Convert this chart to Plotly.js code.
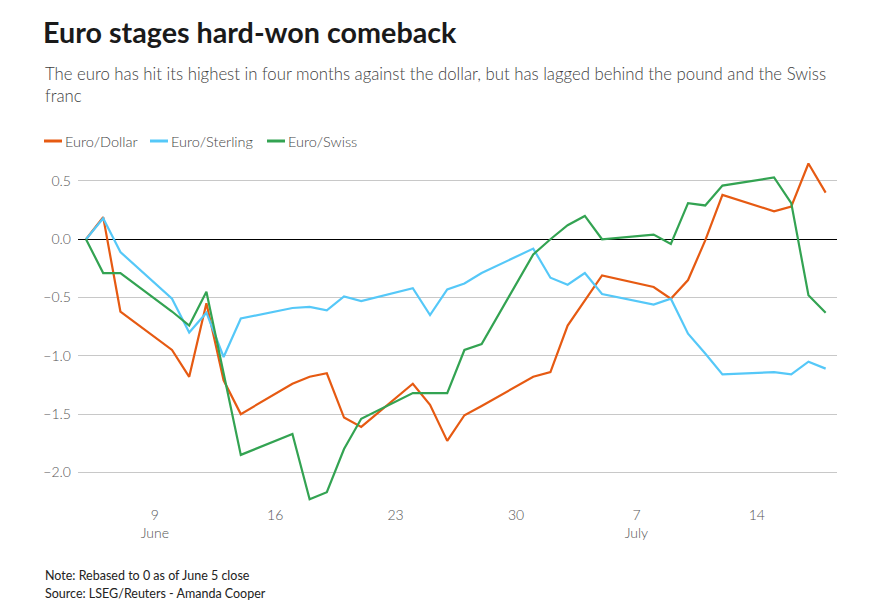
<!DOCTYPE html>
<html>
<head>
<meta charset="utf-8">
<script src="https://cdn.plot.ly/plotly-3.0.1.min.js"></script>
<style>html,body{margin:0;padding:0;background:#fff;}#chart{width:892px;height:601px;}</style>
</head>
<body>
<div id="chart"></div>
<script>
// ---- Data (rebased to 0 as of June 5 close, %) ----
var dates = ["2024-06-05","2024-06-06","2024-06-07","2024-06-10","2024-06-11","2024-06-12","2024-06-13","2024-06-14",
  "2024-06-17","2024-06-18","2024-06-19","2024-06-20","2024-06-21","2024-06-24","2024-06-25","2024-06-26","2024-06-27","2024-06-28",
  "2024-07-01","2024-07-02","2024-07-03","2024-07-04","2024-07-05","2024-07-08","2024-07-09","2024-07-10","2024-07-11","2024-07-12",
  "2024-07-15","2024-07-16","2024-07-17","2024-07-18"];
var euroDollar = [0, 0.19, -0.62, -0.95, -1.18, -0.55, -1.21, -1.50,
  -1.24, -1.18, -1.15, -1.53, -1.61, -1.24, -1.42, -1.73, -1.51, -1.43,
  -1.18, -1.14, -0.74, -0.52, -0.31, -0.41, -0.51, -0.35, -0.01, 0.38,
  0.24, 0.28, 0.65, 0.40];
var euroSterling = [0, 0.18, -0.11, -0.51, -0.80, -0.63, -1.01, -0.68,
  -0.59, -0.58, -0.61, -0.49, -0.53, -0.42, -0.65, -0.43, -0.38, -0.29,
  -0.08, -0.33, -0.39, -0.29, -0.47, -0.56, -0.51, -0.81, -0.98, -1.16,
  -1.14, -1.16, -1.05, -1.11];
var euroSwiss = [0, -0.29, -0.29, -0.62, -0.74, -0.45, -1.15, -1.85,
  -1.67, -2.23, -2.17, -1.80, -1.54, -1.32, -1.32, -1.32, -0.95, -0.90,
  -0.13, 0.00, 0.12, 0.20, 0.00, 0.04, -0.04, 0.31, 0.29, 0.46,
  0.53, 0.31, -0.48, -0.63];
var seriesNames = ["Euro/Dollar", "Euro/Sterling", "Euro/Swiss"];
var tickDates = ["2024-06-09","2024-06-16","2024-06-23","2024-06-30","2024-07-07","2024-07-14"];
var tickLabels = ["9<br>June","16","23","30","7<br>July","14"];

// ---- Styling ----
var colors = ["#e65a12", "#55c8f8", "#33a352"];
var W = 892, H = 601;
var M = {l: 78, r: 55, t: 160, b: 96};
var plotW = W - M.l - M.r, plotH = H - M.t - M.b;
function px(x){ return (x - M.l) / plotW; }
function py(y){ return (H - M.b - y) / plotH; }
var FONT = "Source Sans Pro, Lato, sans-serif";

var values = [euroDollar, euroSterling, euroSwiss];
var traces = values.map(function(v, i){
  return {x: dates, y: v, type: "scatter", mode: "lines", name: seriesNames[i],
    line: {color: colors[i], width: 2.2}, hoverinfo: "x+y"};
});

var shapes = [], annotations = [];
var legendX = [44, 150, 267];
seriesNames.forEach(function(n, i){
  shapes.push({type: "line", xref: "paper", yref: "paper", x0: px(legendX[i]), x1: px(legendX[i] + 18),
    y0: py(141), y1: py(141), line: {color: colors[i], width: 3}});
  annotations.push({xref: "paper", yref: "paper", x: px(legendX[i] + 19), y: py(141), xanchor: "left", yanchor: "middle",
    text: n, showarrow: false, font: {family: FONT, size: 14.5, color: "#444", weight: 300}});
});
annotations.push({xref: "paper", yref: "paper", x: px(43), y: py(61), xanchor: "left", yanchor: "top", align: "left",
  text: "The euro has hit its highest in four months against the dollar, but has lagged behind the pound and the Swiss<br>franc",
  showarrow: false, font: {family: FONT, size: 16.75, color: "#404040", weight: 300}});
annotations.push({xref: "paper", yref: "paper", x: px(43), y: py(575), xanchor: "left", yanchor: "middle",
  text: "Note: Rebased to 0 as of June 5 close", showarrow: false, font: {family: FONT, size: 12.5, color: "#222"}});
annotations.push({xref: "paper", yref: "paper", x: px(43), y: py(593), xanchor: "left", yanchor: "middle",
  text: "Source: LSEG/Reuters - Amanda Cooper", showarrow: false, font: {family: FONT, size: 12.5, color: "#222"}});

var layout = {
  width: W, height: H, margin: M, showlegend: false,
  paper_bgcolor: "#fff", plot_bgcolor: "#fff",
  font: {family: FONT, color: "#444"},
  title: {text: "<b>Euro stages hard-won comeback</b>", xref: "container", yref: "container",
    x: 43 / W, xanchor: "left", y: 1 - 33 / H, yanchor: "middle",
    font: {family: FONT, size: 28.7, color: "#1a1a1a"}},
  xaxis: {type: "date", range: ["2024-06-04 12:50", "2024-07-18 15:50"], tickvals: tickDates, ticktext: tickLabels,
    showgrid: false, zeroline: false, showline: false, ticks: "", tickfont: {family: FONT, size: 14, color: "#555", weight: 300}},
  yaxis: {range: [-2.28, 0.68], dtick: 0.5, tick0: 0, tickformat: ".1f", showgrid: true, gridcolor: "#c8c8c8", gridwidth: 1,
    zeroline: true, zerolinecolor: "#000", zerolinewidth: 1, showline: false, ticks: "", ticklabelstandoff: 6,
    tickfont: {family: FONT, size: 14, color: "#555", weight: 300}},
  shapes: shapes, annotations: annotations
};
Plotly.newPlot("chart", traces, layout, {displayModeBar: false, staticPlot: true});
</script>
</body>
</html>
